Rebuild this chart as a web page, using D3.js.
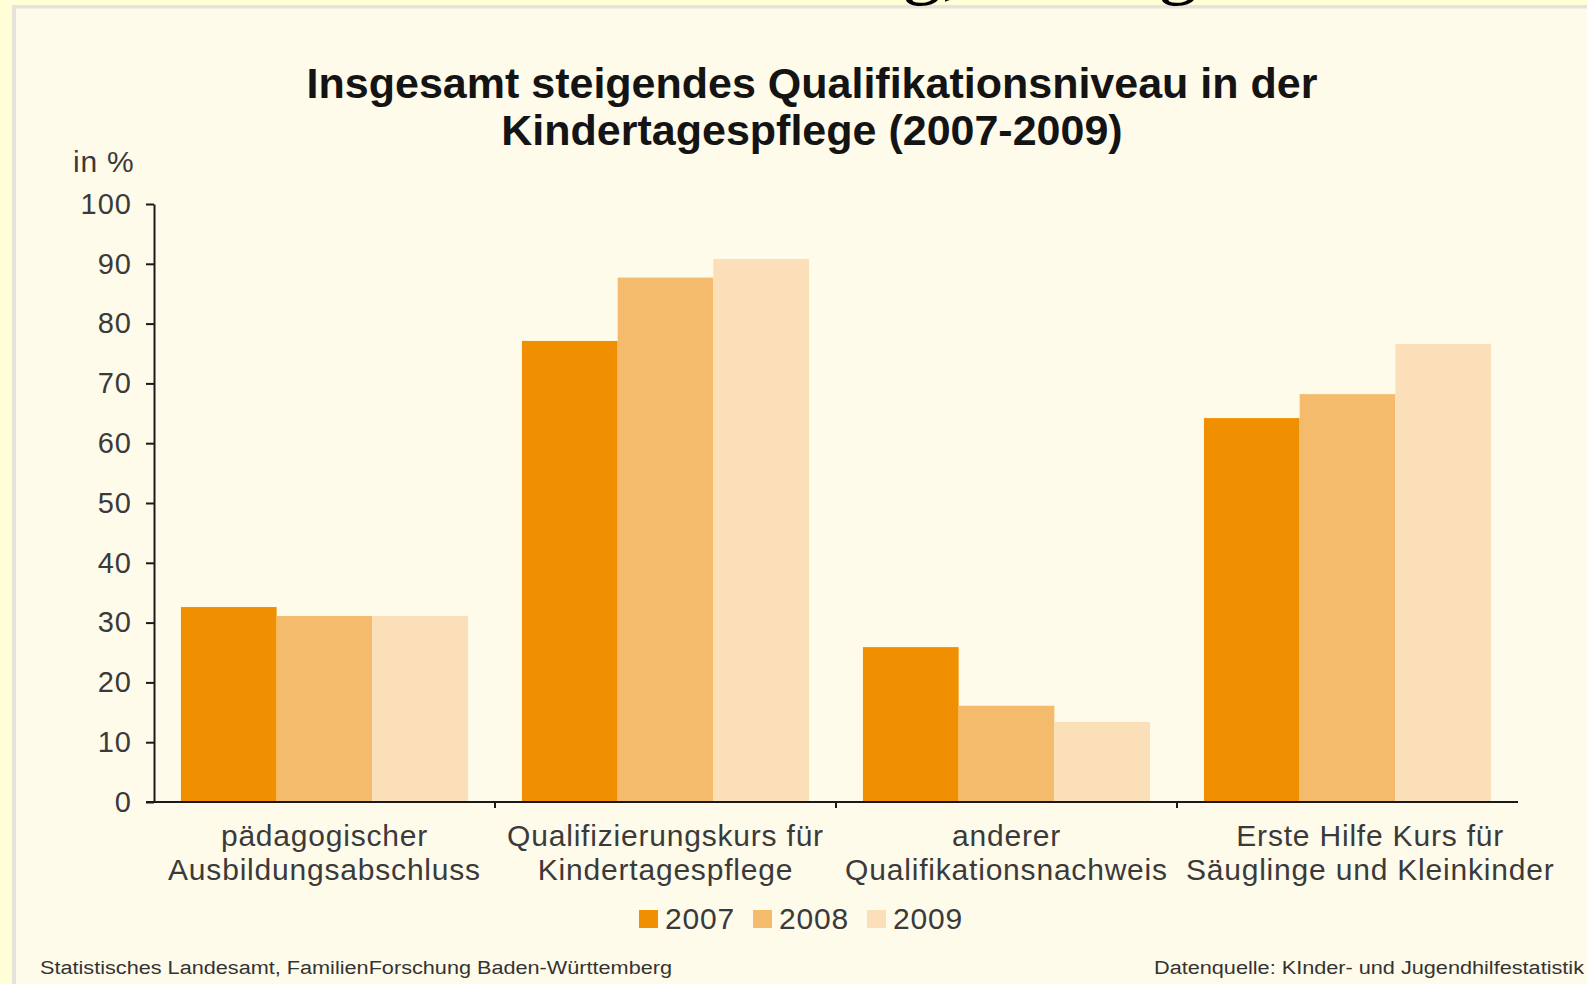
<!DOCTYPE html>
<meta charset="utf-8">
<style>

body {
  margin: 0;
  background: #fffed6;
}

.title {
  font-family: "Liberation Sans", Arial, sans-serif;
  font-weight: bold;
  font-size: 43px;
  fill: #141414;
}

.label {
  font-family: "Liberation Sans", Arial, sans-serif;
  font-size: 30px;
  letter-spacing: 0.8px;
  fill: #3a3a3a;
}

.axis text {
  font-family: "Liberation Sans", Arial, sans-serif;
  font-size: 29px;
  letter-spacing: 1px;
  fill: #3a3a3a;
}

.axis path,
.axis line {
  stroke: #1a1a1a;
  stroke-width: 2;
}

.footer {
  font-family: "Liberation Sans", Arial, sans-serif;
  font-size: 18px;
  fill: #333;
}

</style>
<svg width="1587" height="984"></svg>

<script src="https://d3js.org/d3.v7.min.js"></script>
<script>

var categories = [
  ["pädagogischer", "Ausbildungsabschluss"],
  ["Qualifizierungskurs für", "Kindertagespflege"],
  ["anderer", "Qualifikationsnachweis"],
  ["Erste Hilfe Kurs für", "Säuglinge und Kleinkinder"]
];
var years = ["2007", "2008", "2009"];
var values2007 = [32.6, 77.1, 25.9, 64.2];
var values2008 = [31.1, 87.7, 16.1, 68.2];
var values2009 = [31.1, 90.8, 13.4, 76.6];
var yearColors = ["#f08f00", "#f5bb6d", "#fadfb9"];
var yTicks = [0, 10, 20, 30, 40, 50, 60, 70, 80, 90, 100];

var series = [values2007, values2008, values2009];

var svg = d3.select("svg"),
    width = +svg.attr("width"),
    height = +svg.attr("height");

// page frame: yellow margin, grey shadow, cream panel
svg.append("rect").attr("width", width).attr("height", height).attr("fill", "#fffed6");
svg.append("rect").attr("x", 12).attr("y", 5).attr("width", width).attr("height", height).attr("fill", "#e4e4dc");
svg.append("rect").attr("x", 16).attr("y", 8.5).attr("width", width).attr("height", height).attr("fill", "#fffbea");

// cut-off heading above the picture (only descenders visible)
svg.append("text").attr("x", 902).attr("y", -11)
    .style("font", "80px 'Liberation Serif', serif").text("g,");
svg.append("text").attr("x", 1158).attr("y", -11)
    .style("font", "80px 'Liberation Serif', serif").text("g");

var x0 = d3.scaleBand()
    .domain(d3.range(categories.length))
    .range([154, 1518])
    .paddingInner(0.158)
    .paddingOuter(0.079);

var x1 = d3.scaleBand()
    .domain(years)
    .range([0, x0.bandwidth()]);

var y = d3.scaleLinear()
    .domain([0, 100])
    .range([802, 204]);

var color = d3.scaleOrdinal().domain(years).range(yearColors);

// title
var title = svg.append("text").attr("class", "title").attr("text-anchor", "middle");
title.append("tspan").attr("x", 812).attr("y", 98).text("Insgesamt steigendes Qualifikationsniveau in der");
title.append("tspan").attr("x", 812).attr("y", 145).text("Kindertagespflege (2007-2009)");

svg.append("text").attr("class", "label")
    .attr("x", 73).attr("y", 172)
    .text("in %");

// bars
var groups = svg.append("g")
    .selectAll("g")
    .data(categories.map(function(c, i) { return i; }))
    .enter().append("g")
    .attr("transform", function(i) { return "translate(" + x0(i) + ",0)"; });

groups.selectAll("rect")
    .data(function(i) {
      return years.map(function(yr, j) { return {year: yr, value: series[j][i]}; });
    })
    .enter().append("rect")
    .attr("x", function(d) { return x1(d.year); })
    .attr("y", function(d) { return y(d.value); })
    .attr("width", x1.bandwidth())
    .attr("height", function(d) { return y(0) - y(d.value); })
    .attr("fill", function(d) { return color(d.year); });

// y axis
svg.append("g")
    .attr("class", "axis")
    .attr("transform", "translate(154,0)")
    .call(d3.axisLeft(y).tickValues(yTicks).tickSize(8).tickSizeOuter(0).tickPadding(14));

// x axis line and category separators
var xAxis = svg.append("g").attr("class", "axis");
xAxis.append("line")
    .attr("x1", 146).attr("x2", 1518)
    .attr("y1", y(0)).attr("y2", y(0));
xAxis.selectAll(".sep")
    .data(d3.range(1, categories.length))
    .enter().append("line")
    .attr("class", "sep")
    .attr("x1", function(i) { return x0(i) - x0.step() * x0.paddingInner() / 2; })
    .attr("x2", function(i) { return x0(i) - x0.step() * x0.paddingInner() / 2; })
    .attr("y1", y(0)).attr("y2", y(0) + 6);

// category labels
var catLabels = svg.append("g")
    .selectAll("text")
    .data(categories)
    .enter().append("text")
    .attr("class", "label")
    .attr("text-anchor", "middle");

catLabels.selectAll("tspan")
    .data(function(d, i) { return d.map(function(line) { return {line: line, i: i}; }); })
    .enter().append("tspan")
    .attr("x", function(d) { return x0(d.i) + x0.bandwidth() / 2; })
    .attr("y", function(d, k) { return 846 + k * 34; })
    .text(function(d) { return d.line; });

// push a label right when it would run into its left neighbour
var prevRight = -Infinity;
catLabels.each(function() {
  var b = this.getBBox();
  var shift = Math.max(0, prevRight + 18 - b.x);
  if (shift > 0) d3.select(this).attr("transform", "translate(" + shift + ",0)");
  prevRight = b.x + b.width + shift;
});

// legend
var legend = svg.append("g")
    .selectAll("g")
    .data(years)
    .enter().append("g")
    .attr("transform", function(d, i) { return "translate(" + (639 + i * 114) + ",0)"; });

legend.append("rect")
    .attr("y", 910)
    .attr("width", 19)
    .attr("height", 18)
    .attr("fill", function(d) { return color(d); });

legend.append("text")
    .attr("class", "label")
    .attr("x", 26)
    .attr("y", 929)
    .text(function(d) { return d; });

// footers
svg.append("text").attr("class", "footer")
    .attr("x", 40).attr("y", 974)
    .attr("textLength", 632).attr("lengthAdjust", "spacingAndGlyphs")
    .text("Statistisches Landesamt, FamilienForschung Baden-Württemberg");

svg.append("text").attr("class", "footer")
    .attr("x", 1154).attr("y", 974)
    .attr("textLength", 430).attr("lengthAdjust", "spacingAndGlyphs")
    .text("Datenquelle: KInder- und Jugendhilfestatistik");

</script>
